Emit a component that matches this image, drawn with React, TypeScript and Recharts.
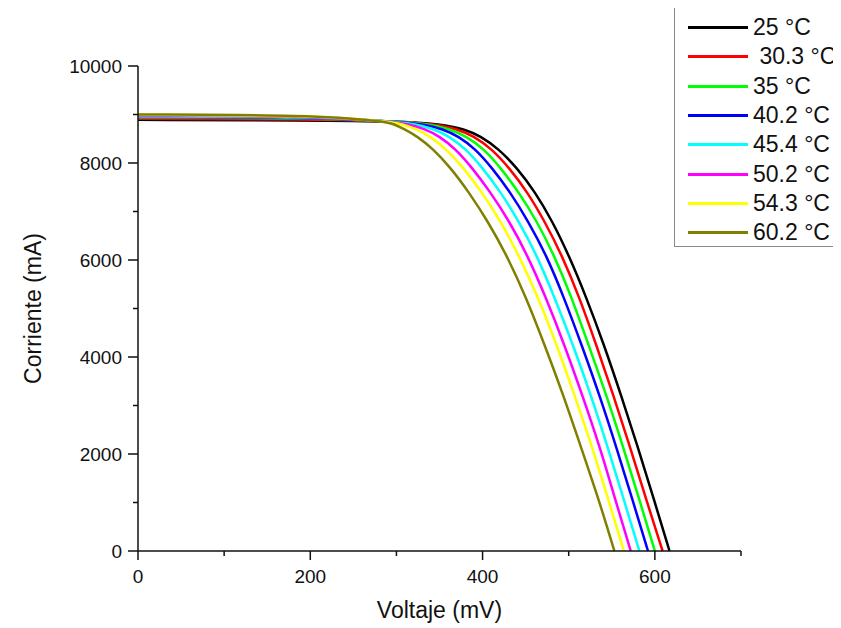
import React from 'react';
import { LineChart, Line, XAxis, YAxis, Label } from 'recharts';

// curvas I-V a distintas temperaturas: corriente (mA) en niveles fijos, voltaje (mV) leído para cada curva
const CURRENT_LEVELS = [8860, 8800, 8700, 8550, 8300, 7900, 7400, 6800, 6100, 5250, 4250, 3200, 2100, 1000, 0];

const ISC = [8890, 8910, 8940, 8950, 8960, 8975, 8990, 9000];

const V_25 = [302, 352, 379, 398, 418, 440, 461, 481, 500, 520, 541, 561, 581, 600, 617];
const V_30 = [300, 345, 371, 390, 410, 431, 452, 472, 492, 512, 532, 552, 572, 591, 609];
const V_35 = [299, 339, 362, 381, 401, 421, 442, 463, 483, 503, 523, 544, 564, 583, 600];
const V_40 = [297, 332, 354, 372, 391, 411, 432, 453, 474, 494, 515, 536, 556, 575, 592];
const V_45 = [294, 323, 344, 361, 380, 400, 421, 442, 463, 483, 505, 526, 546, 565, 582];
const V_50 = [291, 315, 333, 350, 368, 388, 409, 431, 452, 473, 495, 516, 537, 555, 572];
const V_54 = [289, 307, 323, 339, 357, 378, 399, 421, 442, 464, 486, 507, 528, 547, 564];
const V_60 = [287, 297, 309, 324, 342, 363, 384, 406, 428, 450, 472, 494, 515, 536, 553];

const LABELS = ['25 °C', ' 30.3 °C', '35 °C', '40.2 °C', '45.4 °C', '50.2 °C', '54.3 °C', '60.2 °C'];
const COLORS = ['#000000', '#ff0000', '#00ff00', '#0000ff', '#00ffff', '#ff00ff', '#ffff00', '#808000'];

const X_TICKS = [0, 100, 200, 300, 400, 500, 600, 700];
const Y_TICKS = [0, 1000, 2000, 3000, 4000, 5000, 6000, 7000, 8000, 9000, 10000];

const FONT = '"Liberation Sans", Arial, sans-serif';

const buildCurve = (isc: number, volts: number[]) => [
    { v: 0, i: isc },
    { v: 200, i: isc - 10 },
    ...volts.map((v, k) => ({ v, i: CURRENT_LEVELS[k] })),
];

const SERIES = [V_25, V_30, V_35, V_40, V_45, V_50, V_54, V_60].map((volts, k) => buildCurve(ISC[k], volts));

const XTick = (props: any) => {
    const { x, y, payload } = props;
    const major = payload.value % 200 === 0;
    return (
        <g>
            <line x1={x} x2={x} y1={y} y2={y + (major ? 9 : 5)} stroke="#111" strokeWidth={1.5} />
            {major && (
                <text x={x} y={y + 32} textAnchor="middle" fontSize={19} fontFamily={FONT} fill="#111">
                    {payload.value}
                </text>
            )}
        </g>
    );
};

const YTick = (props: any) => {
    const { x, y, payload } = props;
    const major = payload.value % 2000 === 0;
    return (
        <g>
            <line x1={x - (major ? 10 : 5)} x2={x} y1={y} y2={y} stroke="#111" strokeWidth={1.5} />
            {major && (
                <text x={x - 16} y={y + 7} textAnchor="end" fontSize={19} fontFamily={FONT} fill="#111">
                    {payload.value}
                </text>
            )}
        </g>
    );
};

const LegendBox = () => (
    <div
        style={{
            position: 'absolute',
            left: 674,
            top: 6,
            width: 180,
            height: 241,
            border: '1px solid #888',
            background: '#fff',
            boxSizing: 'border-box',
            paddingTop: 6,
        }}
    >
        {LABELS.map((name, k) => (
            <div key={name} style={{ display: 'flex', alignItems: 'center', height: 29.3 }}>
                <div style={{ width: 60, height: 3, background: COLORS[k], marginLeft: 13 }} />
                <span
                    style={{
                        marginLeft: 5,
                        fontFamily: FONT,
                        fontSize: 23,
                        color: '#111',
                        whiteSpace: 'pre',
                        lineHeight: '29px',
                    }}
                >
                    {name}
                </span>
            </div>
        ))}
    </div>
);

export default function App() {
    return (
        <div
            style={{
                position: 'relative',
                marginTop: -8,
                marginLeft: -8,
                width: 841,
                height: 628,
                overflow: 'hidden',
                background: '#fff',
            }}
        >
            <LineChart width={841} height={628} margin={{ top: 66, right: 100, bottom: 0, left: 0 }}>
                <XAxis
                    dataKey="v"
                    type="number"
                    domain={[0, 700]}
                    ticks={X_TICKS}
                    interval={0}
                    height={77}
                    tickSize={0}
                    tickMargin={0}
                    tickLine={false}
                    tick={<XTick />}
                    axisLine={{ stroke: '#111', strokeWidth: 1.5 }}
                    allowDuplicatedCategory={false}
                >
                    <Label
                        value="Voltaje (mV)"
                        position="insideBottom"
                        offset={10}
                        style={{ fontFamily: FONT, fontSize: 23, fill: '#111' }}
                    />
                </XAxis>
                <YAxis
                    dataKey="i"
                    type="number"
                    domain={[0, 10000]}
                    ticks={Y_TICKS}
                    interval={0}
                    width={138}
                    tickSize={0}
                    tickMargin={0}
                    tickLine={false}
                    tick={<YTick />}
                    axisLine={{ stroke: '#111', strokeWidth: 1.5 }}
                >
                    <Label
                        value="Corriente (mA)"
                        angle={-90}
                        position="insideLeft"
                        offset={33}
                        style={{ fontFamily: FONT, fontSize: 23, fill: '#111', textAnchor: 'middle' }}
                    />
                </YAxis>
                {SERIES.map((data, k) => (
                    <Line
                        key={LABELS[k]}
                        data={data}
                        dataKey="i"
                        name={LABELS[k]}
                        type="basis"
                        stroke={COLORS[k]}
                        strokeWidth={2.5}
                        dot={false}
                        activeDot={false}
                        isAnimationActive={false}
                    />
                ))}
            </LineChart>
            <LegendBox />
        </div>
    );
}
